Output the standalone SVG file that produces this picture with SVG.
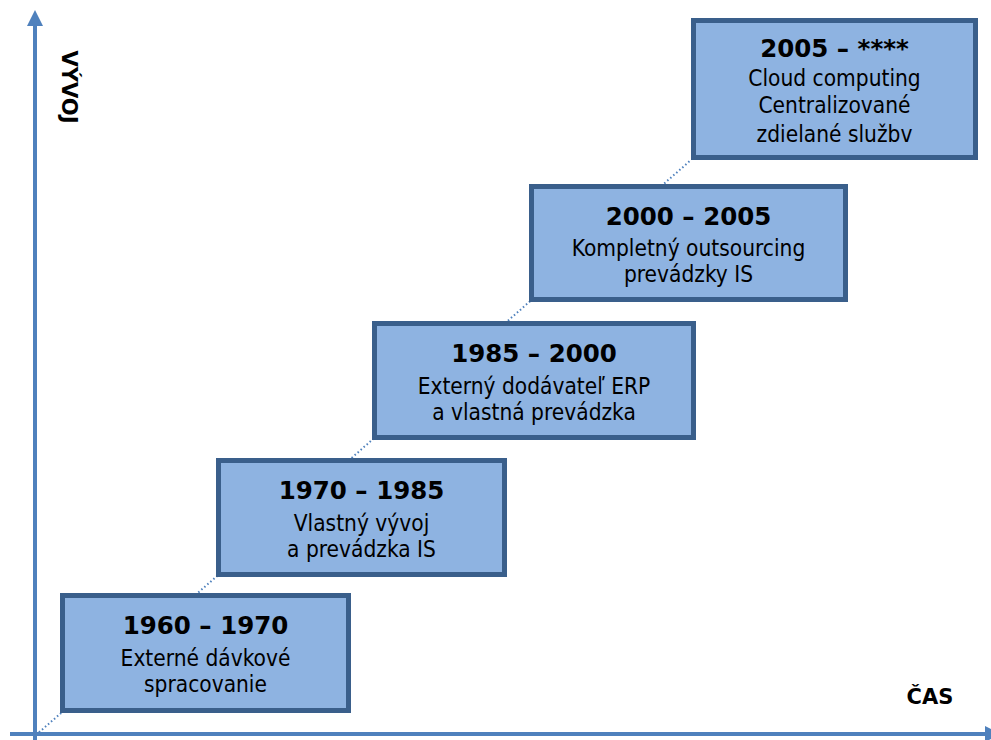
<svg xmlns="http://www.w3.org/2000/svg" width="991" height="740" viewBox="0 0 991 740">
<style>
.box{fill:#8EB3E1;stroke:#3A5F8B;stroke-width:5}
.t{font-family:"DejaVu Sans",Verdana,sans-serif;font-weight:bold;font-size:24.5px;fill:#000;text-anchor:middle}
.s{font-family:"DejaVu Sans Condensed","DejaVu Sans",sans-serif;font-stretch:condensed;font-size:22.5px;fill:#000;text-anchor:middle}
.lbl{font-family:"DejaVu Sans",Verdana,sans-serif;font-weight:bold;font-size:21px;fill:#000;text-anchor:middle}
.axis{stroke:#4F81BD;stroke-width:4;fill:none}
</style>
<rect width="991" height="740" fill="#fff"/>
<g id="connectors">
<line x1="36" y1="735" x2="691" y2="160" stroke="#4F81BD" stroke-width="2" stroke-dasharray="1.5 2.5"/>
<line class="axis" x1="35" y1="740" x2="35" y2="24"/>
<polygon points="35,10 27,26 43,26" fill="#4F81BD"/>
<line class="axis" x1="10" y1="734" x2="988" y2="734"/>
<polygon points="1001,734 985,726 985,742" fill="#4F81BD"/>
</g>
<g id="axis-y-label"><text class="lbl" transform="translate(62,87) rotate(90)">VÝVOJ</text></g>
<g id="axis-x-label"><text class="lbl" x="930" y="704">ČAS</text></g>
<g id="n1">
<rect class="box" x="62.5" y="595.5" width="286" height="115"/>
<text class="t" x="205.5" y="634">1960 – 1970</text>
<text class="s" x="205.5" y="666">Externé dávkové</text>
<text class="s" x="205.5" y="692">spracovanie</text>
</g>
<g id="n2">
<rect class="box" x="218.5" y="460.5" width="286" height="114"/>
<text class="t" x="361.5" y="499">1970 – 1985</text>
<text class="s" x="361.5" y="531">Vlastný vývoj</text>
<text class="s" x="361.5" y="557">a prevádzka IS</text>
</g>
<g id="n3">
<rect class="box" x="374.5" y="323.5" width="319" height="114"/>
<text class="t" x="534" y="362">1985 – 2000</text>
<text class="s" x="534" y="394">Externý dodávateľ ERP</text>
<text class="s" x="534" y="420">a vlastná prevádzka</text>
</g>
<g id="n4">
<rect class="box" x="531.5" y="186.5" width="314" height="113"/>
<text class="t" x="688.5" y="225">2000 – 2005</text>
<text class="s" x="688.5" y="256">Kompletný outsourcing</text>
<text class="s" x="688.5" y="282">prevádzky IS</text>
</g>
<g id="n5">
<rect class="box" x="693.5" y="20.5" width="282" height="137"/>
<text class="t" x="834.5" y="57">2005 – ****</text>
<text class="s" x="834.5" y="86">Cloud computing</text>
<text class="s" x="834.5" y="113">Centralizované</text>
<text class="s" x="834.5" y="142">zdielané službv</text>
</g>
</svg>
